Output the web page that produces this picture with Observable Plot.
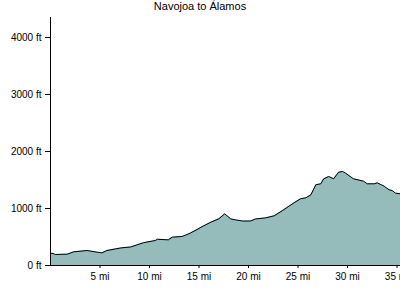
<!DOCTYPE html>
<html>
<head>
<meta charset="utf-8">
<script src="https://cdn.jsdelivr.net/npm/d3@7"></script>
<script src="https://cdn.jsdelivr.net/npm/@observablehq/plot@0.6"></script>
<style>
  html, body { margin: 0; padding: 0; background: #fff; }
  #title { width: 400px; height: 17px; line-height: 17px; text-align: center;
           font: 11px "Liberation Sans", Arial, sans-serif; color: #000; }
  #chart svg { display: block; }
</style>
</head>
<body>
<div id="title">Navojoa to Álamos</div>
<div id="chart"></div>
<script>
const miles = [0, 0.15, 0.5, 1.7, 2.35, 3.7, 4.7, 5.2, 5.7, 6.6, 7.2, 8.1, 9.4, 10.6, 10.8, 11.9, 12.3, 13.3, 13.8, 14.1, 14.8, 15.3, 16.2, 17.0, 17.6, 18.2, 18.7, 19.4, 20.2, 20.7, 21.7, 22.6, 23.4, 24.0, 24.6, 25.25, 25.8, 26.3, 26.8, 27.3, 27.6, 28.1, 28.6, 29.1, 29.5, 29.8, 30.6, 31.6, 32.0, 32.7, 33.0, 33.7, 34.2, 34.5, 34.85, 35.35];
const elevation = [205, 216, 193, 199, 240, 263, 234, 222, 263, 292, 310, 325, 400, 439, 460, 450, 497, 509, 544, 567, 630, 680, 760, 818, 907, 818, 800, 780, 780, 816, 835, 872, 960, 1030, 1100, 1170, 1188, 1240, 1416, 1433, 1521, 1561, 1521, 1637, 1649, 1620, 1521, 1480, 1433, 1433, 1450, 1392, 1327, 1316, 1269, 1257];
const xTicks = [5, 10, 15, 20, 25, 30, 35];
const yTicks = [0, 1000, 2000, 3000, 4000];

const data = miles.map((m, i) => ({mi: m, ft: elevation[i]}));

const chart = Plot.plot({
  width: 400,
  height: 283,
  marginLeft: 50,
  marginRight: 0,
  marginTop: 0,
  marginBottom: 35,
  style: {fontFamily: '"Liberation Sans", Arial, sans-serif', fontSize: "10px", color: "#000", background: "#fff"},
  x: {domain: [0, 35.35], label: null},
  y: {domain: [0, 4350], label: null},
  marks: [
    Plot.areaY(data, {x: "mi", y: "ft", fill: "#95bbbb"}),
    Plot.lineY(data, {x: "mi", y: "ft", stroke: "#000", strokeWidth: 1}),
    Plot.ruleY([0], {stroke: "#000"}),
    Plot.ruleX([0], {stroke: "#000"}),
    Plot.axisX({ticks: xTicks, tickFormat: d => d + " mi", tickSize: 3, tickPadding: 4, label: null}),
    Plot.axisY({ticks: yTicks, tickFormat: d => d + " ft", tickSize: 5, tickPadding: 4, label: null})
  ]
});
document.getElementById("chart").appendChild(chart);
</script>
</body>
</html>
